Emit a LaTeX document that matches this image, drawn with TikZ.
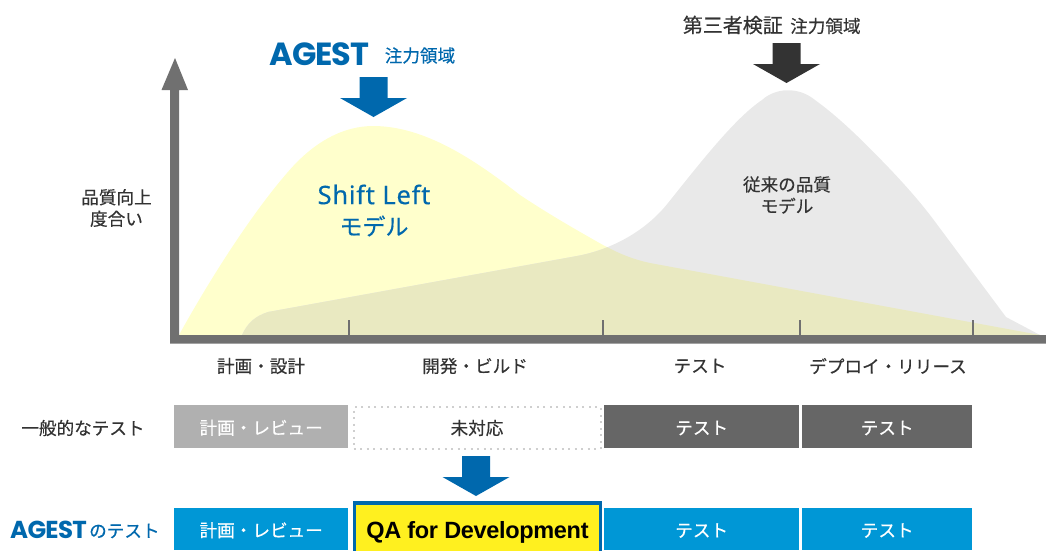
\documentclass[tikz,border=0pt]{standalone}
\usepackage{fontspec}
\setmainfont{Noto Sans CJK JP}
\newfontfamily\cjkm[FakeBold=0.4]{Noto Sans CJK JP}
\newfontfamily\logofont[LetterSpace=-3]{Poppins}
\newfontfamily\qafont[LetterSpace=-1.4]{Liberation Sans}
\newfontfamily\shiftfont[LetterSpace=3,FakeBold=0.3]{Noto Sans}
\newcommand{\fs}[1]{\fontsize{#1}{#1}\selectfont}
\definecolor{axisgrey}{HTML}{707070}
\definecolor{ink}{HTML}{333333}
\definecolor{deepblue}{HTML}{0068AD}
\definecolor{skyblue}{HTML}{0097D6}
\definecolor{lightbar}{HTML}{B0B0B0}
\definecolor{darkbar}{HTML}{666666}
\definecolor{curveyellow}{HTML}{FFFFCC}
\definecolor{curvegrey}{HTML}{E9E9E9}
\definecolor{overlap}{HTML}{E9E9C1}
\definecolor{qayellow}{HTML}{FFF01F}
\definecolor{dotgrey}{HTML}{CFCFCF}
\def\yellowcurve{(179,335) .. controls (215,270) and (255,210) .. (287,173) .. controls (315,140) and (345,126) .. (373,126) .. controls (425,126) and (475,160) .. (520,195) .. controls (550,215) and (580,232) .. (603,245) .. controls (620,254) and (632,259) .. (650,263) -- (1040,335) -- cycle}
\def\greycurve{(242,335) .. controls (248,322) and (256,316) .. (268,312) -- (577,256) .. controls (610,250) and (645,232) .. (668,203) .. controls (700,163) and (735,118) .. (762,100) .. controls (775,88) and (798,86) .. (815,100) .. controls (840,118) and (865,143) .. (889,168) .. controls (910,190) and (925,208) .. (936,223) -- (1006,317) -- (1040,335) -- cycle}
\tikzset{
  x=1pt,y=-1pt,
  label17/.style={font=\cjkm\fs{17.6},text=ink,inner sep=0pt,align=center},
  lightbox/.style={fill=lightbar,draw=none,font=\cjkm\fs{17.6},text=white,inner sep=0pt,text height=17pt,text depth=1.6pt},
  darkbox/.style={fill=darkbar,draw=none,font=\cjkm\fs{17.6},text=white,inner sep=0pt,text height=17pt,text depth=1.6pt},
  bluebox/.style={fill=skyblue,draw=none,font=\cjkm\fs{17.6},text=white,inner sep=0pt,text height=17pt,text depth=1.6pt},
}
\newcommand{\blockarrow}[3]{\fill[#3] (#1-14,#2) -- (#1+14,#2) -- (#1+14,#2+21) -- (#1+33.5,#2+21) -- (#1,#2+40) -- (#1-33.5,#2+21) -- (#1-14,#2+21) -- cycle;}
\begin{document}
\begin{tikzpicture}
\useasboundingbox (0,0) rectangle (1046,550);
% curves
\fill[curveyellow] \yellowcurve;
\fill[curvegrey] \greycurve;
\begin{scope}
\clip \yellowcurve;
\fill[overlap] \greycurve;
\end{scope}
% axes
\fill[axisgrey] (170,343.5) -- (170,90) -- (161.5,90) -- (175,58) -- (188,90) -- (179,90) -- (179,335) -- (1046,335) -- (1046,343.5) -- cycle;
\foreach \tx in {349,603,800,973} \fill[axisgrey] (\tx-1.2,320) rectangle (\tx+1.2,336);
% arrows
\blockarrow{373.5}{77}{deepblue}
\blockarrow{786.5}{43}{ink}
\blockarrow{476}{456}{deepblue}
% headings
\node[inner sep=0pt,font=\logofont\bfseries\fs{32},text=deepblue] (logotop) at (319.5,54) {AGEST};
\node[label17,text=deepblue] (focusa) at (420,55.5) {注力領域};
\node[inner sep=0pt,font=\cjkm\fs{20},text=ink,anchor=east] (third) at (783,25) {第三者検証};
\node[label17,anchor=west] (focusb) at (790,26) {注力領域};
\node[label17] (quality) at (116.5,208) {品質向上\\[4pt]度合い};
\node[inner sep=0pt,font=\shiftfont\fs{25.5},text=deepblue] (shift) at (374,194.5) {Shift Left};
\node[inner sep=0pt,font=\cjkm\fs{23},text=deepblue] (model) at (374,226) {モデル};
\node[label17] (conv) at (787,195) {従来の品質\\[4pt]モデル};
% phase labels
\node[label17] (p1) at (261,366) {計画・設計};
\node[label17] (p2) at (475,366) {開発・ビルド};
\node[label17] (p3) at (700,366) {テスト};
\node[label17] (p4) at (888,366) {デプロイ・リリース};
% row 1
\node[label17] (r1) at (83,428) {一般的なテスト};
\node[lightbox,minimum width=174pt,minimum height=43pt,anchor=north west] (a1) at (174,405) {計画・レビュー};
\node[label17,draw=dotgrey,line width=2pt,dash pattern=on 2pt off 4.5pt,minimum width=247pt,minimum height=42pt,anchor=north west] (a2) at (352.5,406) {未対応};
\node[darkbox,minimum width=195pt,minimum height=43pt,anchor=north west] (a3) at (604,405) {テスト};
\node[darkbox,minimum width=170pt,minimum height=43pt,anchor=north west] (a4) at (802,405) {テスト};
% row 2
\node[inner sep=0pt,font=\logofont\bfseries\fs{24.5},text=deepblue,anchor=east] (logob) at (87,530) {AGEST};
\node[label17,text=deepblue,anchor=west] (r2) at (89,531) {のテスト};
\node[bluebox,minimum width=174pt,minimum height=42pt,anchor=north west] (b1) at (174,508) {計画・レビュー};
\node[draw=deepblue,line width=3.5pt,fill=qayellow,minimum width=246pt,minimum height=59pt,anchor=north west,inner sep=0pt,font=\qafont\bfseries\fs{23.5},text=black] (b2) at (352.7,501.3) {QA for Development};
\node[bluebox,minimum width=195pt,minimum height=42pt,anchor=north west] (b3) at (604,508) {テスト};
\node[bluebox,minimum width=170pt,minimum height=42pt,anchor=north west] (b4) at (802,508) {テスト};
\end{tikzpicture}
\end{document}
